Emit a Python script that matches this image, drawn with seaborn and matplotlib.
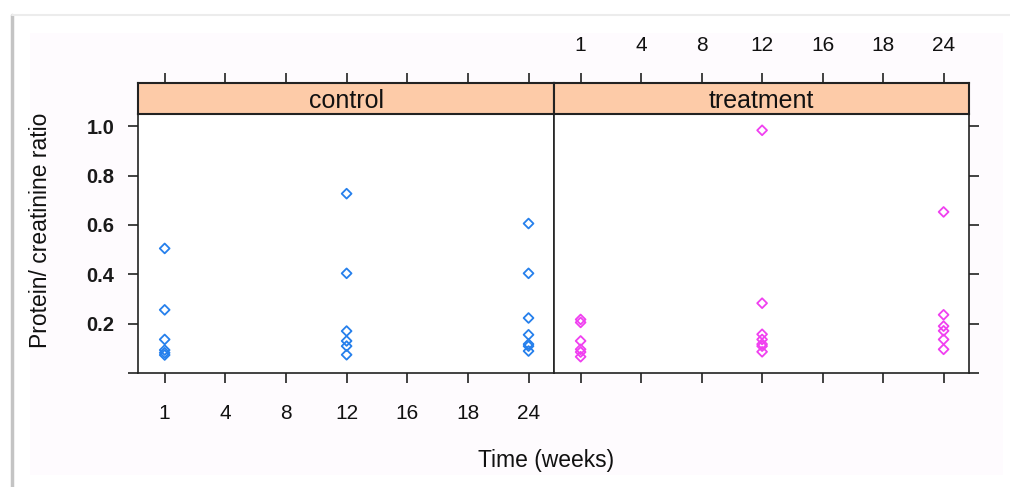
import matplotlib
matplotlib.use("Agg")
import matplotlib.pyplot as plt
from matplotlib.patches import Rectangle
import seaborn as sns
import pandas as pd

# ---- data ----
week_levels = [1, 4, 8, 12, 16, 18, 24]
panels = ["control", "treatment"]

control_week = [1, 1, 1, 1, 1, 1,
                12, 12, 12, 12, 12, 12,
                24, 24, 24, 24, 24, 24, 24]
control_ratio = [0.505, 0.256, 0.136, 0.093, 0.082, 0.073,
                 0.727, 0.404, 0.170, 0.130, 0.109, 0.074,
                 0.606, 0.404, 0.223, 0.155, 0.117, 0.109, 0.089]

treatment_week = [1, 1, 1, 1, 1, 1,
                  12, 12, 12, 12, 12, 12, 12,
                  24, 24, 24, 24, 24, 24]
treatment_ratio = [0.217, 0.205, 0.130, 0.096, 0.085, 0.066,
                   0.984, 0.283, 0.157, 0.136, 0.117, 0.109, 0.086,
                   0.653, 0.236, 0.190, 0.171, 0.136, 0.096]

y_ticks = [0.0, 0.2, 0.4, 0.6, 0.8, 1.0]
y_tick_labels = ["", "0.2", "0.4", "0.6", "0.8", "1.0"]

colors = {"control": "#2680ec", "treatment": "#f040f0"}
strip_color = "#fdcba8"

df = pd.concat([
    pd.DataFrame({"week": control_week, "ratio": control_ratio, "group": "control"}),
    pd.DataFrame({"week": treatment_week, "ratio": treatment_ratio, "group": "treatment"}),
], ignore_index=True)

sns.set_style("white")
plt.rcParams["font.family"] = ["Liberation Sans", "DejaVu Sans"]
plt.rcParams["text.color"] = "#111111"
plt.rcParams["xtick.color"] = "#111111"
plt.rcParams["ytick.color"] = "#111111"

W, H = 1010, 487
fig = plt.figure(figsize=(W / 100, H / 100), dpi=100)
fig.patch.set_facecolor("white")

# card-like background
fig.add_artist(plt.Line2D([12 / W, 12 / W], [0, 1 - 15 / H], transform=fig.transFigure,
                          color="#c4c4c4", lw=2.5, zorder=-2))
fig.add_artist(plt.Line2D([12 / W, 1], [1 - 15 / H, 1 - 15 / H], transform=fig.transFigure,
                          color="#ececec", lw=1.5, zorder=-2))
fig.add_artist(Rectangle((30 / W, 1 - 475 / H), (1003 - 30) / W, (475 - 33) / H,
                         transform=fig.transFigure, facecolor="#fefbfe",
                         edgecolor="none", zorder=-1))


def px_rect(x0, y0, x1, y1):
    return [x0 / W, 1 - y1 / H, (x1 - x0) / W, (y1 - y0) / H]


panel_x = {"control": (138, 554), "treatment": (554, 969)}
plot_top, plot_bot = 114, 373
strip_top = 83

xlim = (-0.44, 6.42)
ylim = (0.0, 1.05)
tick_len = 7
lw_frame = 1.2
tick_col = "#222222"

for name in panels:
    x0, x1 = panel_x[name]
    ax = fig.add_axes(px_rect(x0, plot_top, x1, plot_bot))
    sax = fig.add_axes(px_rect(x0, strip_top, x1, plot_top))
    sub = df[df["group"] == name]
    sns.stripplot(data=sub, x="week", y="ratio", order=week_levels, jitter=False,
                  marker="D", size=5.0, color=colors[name], facecolor="none",
                  edgecolor=colors[name], linewidth=1.3, ax=ax, zorder=3)
    ax.set_xlim(*xlim)
    ax.set_ylim(*ylim)
    ax.set_facecolor("white")
    ax.set_xlabel("")
    ax.set_ylabel("")
    ax.set_xticks(range(len(week_levels)))
    ax.set_yticks(y_ticks)
    for sp in ax.spines.values():
        sp.set_visible(True)
        sp.set_color(tick_col)
        sp.set_linewidth(lw_frame)

    # strip
    sax.set_xlim(*xlim)
    sax.set_ylim(0, 1)
    sax.set_facecolor(strip_color)
    sax.set_yticks([])
    for sp in sax.spines.values():
        sp.set_visible(True)
        sp.set_color(tick_col)
        sp.set_linewidth(1.5)
    sax.text(0.5, 0.42, name, transform=sax.transAxes, ha="center", va="center",
             fontsize=18, color="#111111")
    sax.set_xticks(range(len(week_levels)))
    sax.tick_params(axis="x", bottom=False, labelbottom=False, top=True,
                    direction="out", length=tick_len, width=1.2, color=tick_col,
                    labelcolor="#111111", pad=13, labelsize=15)

    if name == "control":
        ax.tick_params(axis="y", left=True, right=False, labelleft=True,
                       direction="out", length=tick_len, width=1.2, color=tick_col,
                       labelcolor="#1a1a1a", pad=10, labelsize=14.5)
        ax.set_yticklabels(y_tick_labels, fontweight="bold")
        ax.tick_params(axis="x", bottom=True, labelbottom=True, direction="out",
                       length=tick_len, width=1.2, color=tick_col,
                       labelcolor="#111111", pad=15, labelsize=15)
        ax.set_xticklabels([str(w) for w in week_levels])
        sax.tick_params(axis="x", labeltop=False)
    else:
        ax.tick_params(axis="y", left=False, right=True, labelleft=False, labelright=False,
                       direction="out", length=tick_len, width=1.2, color=tick_col)
        ax.tick_params(axis="x", bottom=True, labelbottom=False, direction="out",
                       length=tick_len, width=1.2, color=tick_col)
        sax.set_xticklabels([str(w) for w in week_levels])
        sax.tick_params(axis="x", labeltop=True)

fig.text(546 / W, 1 - 461 / H, "Time (weeks)", ha="center", va="center", fontsize=16.5,
         color="#111111")
fig.text(41 / W, 1 - 230 / H, "Protein/ creatinine ratio", ha="center", va="center",
         rotation=90, fontsize=16.5, color="#111111")

fig.savefig("out.png", dpi=100, facecolor=fig.get_facecolor())
